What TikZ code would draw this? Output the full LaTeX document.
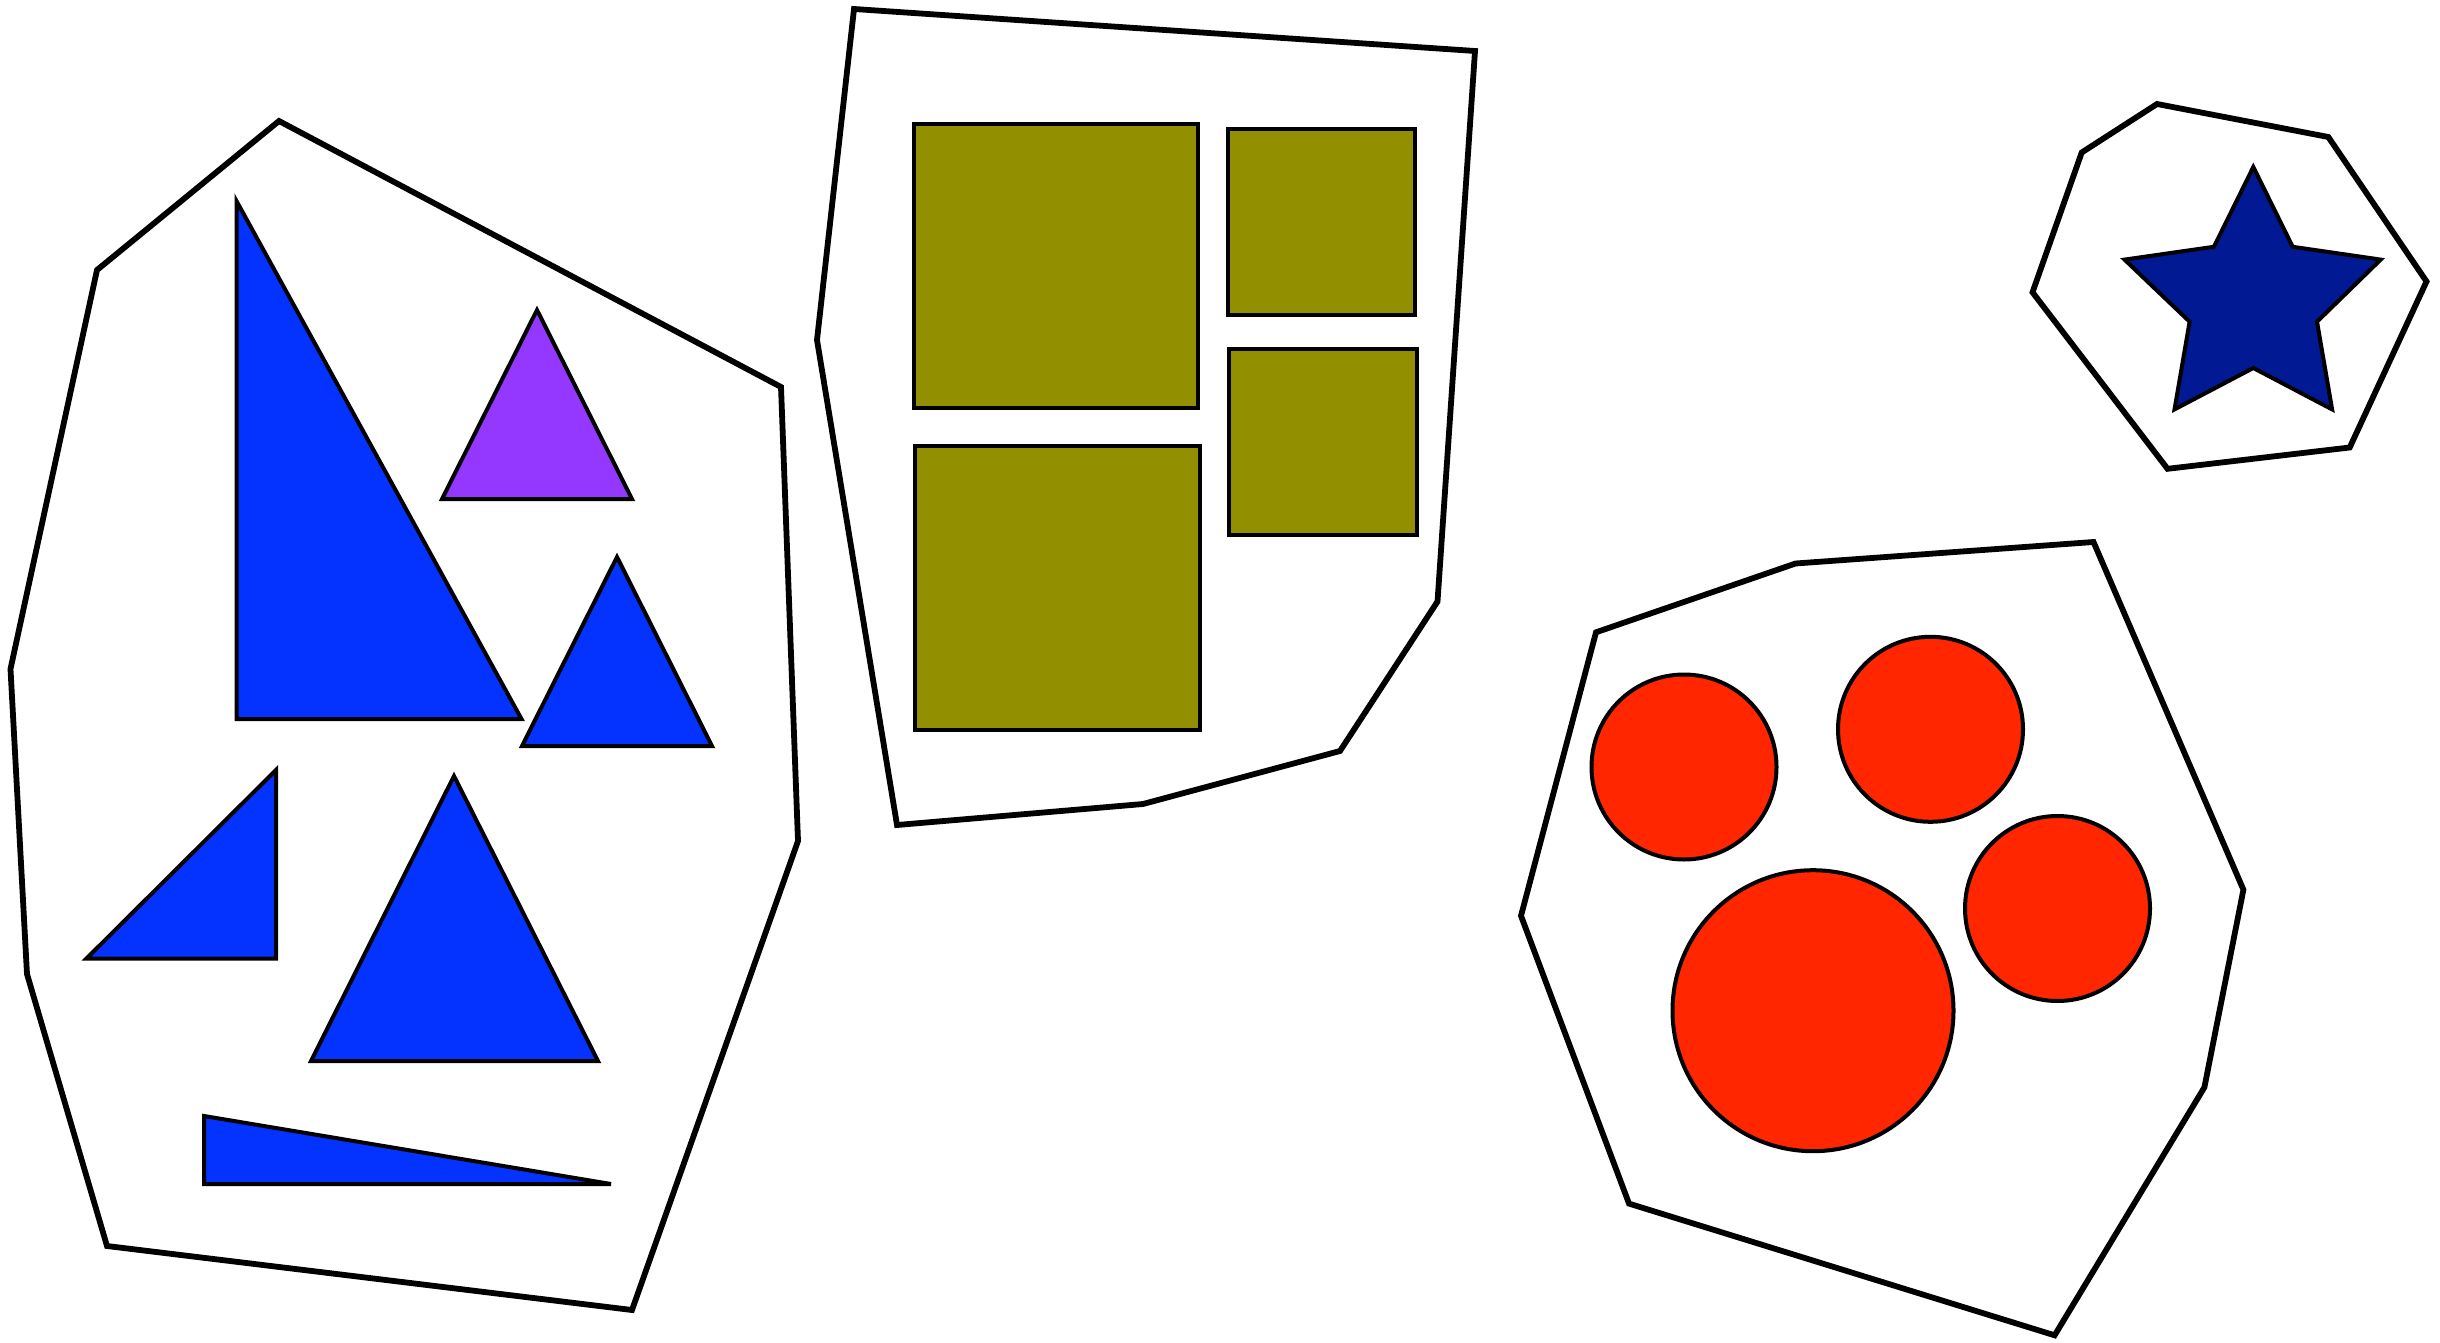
\documentclass[tikz,border=0pt]{standalone}
\definecolor{blueberry}{HTML}{0433FF}
\definecolor{grape}{HTML}{9437FF}
\definecolor{asparagus}{HTML}{929000}
\definecolor{maraschino}{HTML}{FF2600}
\definecolor{midnight}{HTML}{011993}
\tikzset{
  outline/.style={draw=black, line width=5.8pt, line join=miter, fill=white},
  piece/.style={draw=black, line width=4pt, line join=miter},
  bluepiece/.style={piece, fill=blueberry},
  grapepiece/.style={piece, fill=grape},
  olivepiece/.style={piece, fill=asparagus},
  redpiece/.style={piece, fill=maraschino},
  starpiece/.style={piece, fill=midnight}
}
\begin{document}
\begin{tikzpicture}[x=1pt,y=-1pt]
\useasboundingbox (0,0) rectangle (2440,1343);
% ---------- left group: triangles ----------
\draw[outline] (279,121) -- (97,270) -- (10.5,669) -- (27,974) -- (107,1246)
  -- (632,1310) -- (798,841) -- (781,387) -- cycle;
\draw[bluepiece] (236.5,201) -- (236.5,719) -- (521.5,719) -- cycle;
\draw[grapepiece] (537,310) -- (632,499) -- (442,499) -- cycle;
\draw[bluepiece] (617,557) -- (712,746) -- (522,746) -- cycle;
\draw[bluepiece] (276,770) -- (276,958.5) -- (86.5,958.5) -- cycle;
\draw[bluepiece] (454,776) -- (598,1061) -- (311,1061) -- cycle;
\draw[bluepiece] (204,1116) -- (204,1184) -- (611,1184) -- cycle;
% ---------- middle group: rectangles ----------
\draw[outline] (854,9) -- (1475,51) -- (1437.5,601.5) -- (1340,751)
  -- (1143,804) -- (897,825) -- (817,340) -- cycle;
\draw[olivepiece] (914,124.5) rectangle (1197.5,407.5);
\draw[olivepiece] (1228,129) rectangle (1415,315);
\draw[olivepiece] (915,446) rectangle (1200,730);
\draw[olivepiece] (1229,349) rectangle (1417,535);
% ---------- top right group: star ----------
\draw[outline] (2157,104) -- (2328.3,137) -- (2426.5,281.5) -- (2349.7,447.5)
  -- (2167.5,468.8) -- (2032.5,292.3) -- (2081.7,152.5) -- cycle;
\draw[starpiece] (2253.3,167) -- (2292.7,246.8) -- (2380.7,259.6) -- (2317,321.7)
  -- (2332.1,409.4) -- (2253.3,368) -- (2174.5,409.4) -- (2189.6,321.7)
  -- (2124.5,259.6) -- (2213.9,246.8) -- cycle;
% ---------- bottom right group: circles ----------
\draw[outline] (2093.5,542) -- (1795.5,563.5) -- (1596,632.3) -- (1521,915.8)
  -- (1629,1203.6) -- (2054.6,1335.3) -- (2204.4,1087.3) -- (2243.4,889.7) -- cycle;
\draw[redpiece] (1684,767) circle[radius=92.5];
\draw[redpiece] (1930.5,729.3) circle[radius=92.5];
\draw[redpiece] (2057.5,908.5) circle[radius=92.5];
\draw[redpiece] (1813,1010.7) circle[radius=140.5];
\end{tikzpicture}
\end{document}
